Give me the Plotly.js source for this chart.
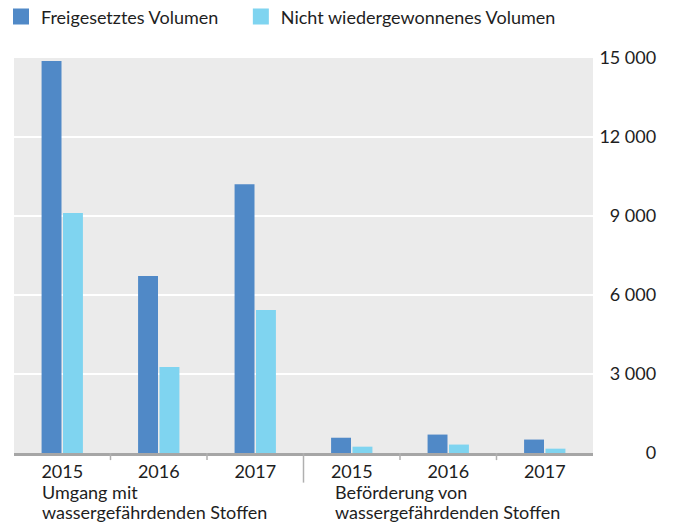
<!DOCTYPE html>
<html><head><meta charset="utf-8">
<script src="https://cdn.plot.ly/plotly-3.0.1.min.js"></script>
<style>body{margin:0;padding:0;background:#fff}#chart{width:674px;height:525px}</style>
</head><body><div id="chart"></div>
<script>
const categories = ["U2015","U2016","U2017","B2015","B2016","B2017"];
const tickLabels = ["2015","2016","2017","2015","2016","2017"];
const groupLines = [["Umgang mit", "wassergefährdenden Stoffen"], ["Beförderung von", "wassergefährdenden Stoffen"]];
const seriesNames = ["Freigesetztes Volumen", "Nicht wiedergewonnenes Volumen"];
const freigesetzt = [14890, 6720, 10210, 580, 700, 510];
const nichtWieder = [9110, 3270, 5430, 240, 320, 165];
const yTicks = [0, 3000, 6000, 9000, 12000, 15000];

const FONT = "Lato, 'Liberation Sans', sans-serif";
const FS = 18;
const TXT = "#1e1e1e";
const C1 = "#5089c7", C2 = "#7fd4f0";

const traces = [
  {type:"bar", x:categories, y:freigesetzt, name:seriesNames[0], marker:{color:C1}, showlegend:false, hoverinfo:"y"},
  {type:"bar", x:categories, y:nichtWieder, name:seriesNames[1], marker:{color:C2}, showlegend:false, hoverinfo:"y"},
  {type:"scatter", mode:"markers", x:[null], y:[null], name:seriesNames[0], marker:{symbol:"square", size:20, color:C1}, showlegend:true, legend:"legend"},
  {type:"scatter", mode:"markers", x:[null], y:[null], name:seriesNames[1], marker:{symbol:"square", size:20, color:C2}, showlegend:true, legend:"legend2"}
];

const shapes = [];
[0.5, 1.5, 3.5, 4.5].forEach(v => shapes.push({type:"line", xref:"x", yref:"paper", x0:v, x1:v, y0:0, y1:-0.018, line:{color:"#b0b0b0", width:1.5}}));
shapes.push({type:"line", xref:"x", yref:"paper", x0:2.5, x1:2.5, y0:0, y1:-0.075, line:{color:"#b0b0b0", width:1.5}});

const legendBase = {orientation:"h", xanchor:"left", y:1.104, yanchor:"middle", font:{family:FONT, size:FS, color:TXT},
                    itemwidth:30, tracegroupgap:0, bgcolor:"rgba(0,0,0,0)"};

const groupX = [0.04, 0.4905];
const lineY = [-0.0987, -0.1494];
const annotations = [];
groupLines.forEach((lines, g) => lines.forEach((t, i) => annotations.push({
  xref:"paper", yref:"paper", x:groupX[g], y:lineY[i], xanchor:"left", yanchor:"middle", align:"left",
  text:t, showarrow:false, font:{family:FONT, size:FS, color:TXT}
})));

const layout = {
  width:674, height:525,
  margin:{l:14, r:10, t:58, b:72, autoexpand:false},
  paper_bgcolor:"#ffffff", plot_bgcolor:"#ebebeb",
  font:{family:FONT, size:FS, color:TXT},
  separators:", ",
  barmode:"group", bargap:0.556, bargroupgap:0.07,
  showlegend:true,
  legend:Object.assign({}, legendBase, {x:-0.02}),
  legend2:Object.assign({}, legendBase, {x:0.349}),
  xaxis:{domain:[0, 579/650], type:"category", range:[-0.5, 5.5], tickvals:categories, ticktext:tickLabels,
         showgrid:false, zeroline:false, showline:true, linecolor:"#a6a6a6", linewidth:3, ticks:"", fixedrange:true,
         tickfont:{family:FONT, size:FS, color:TXT}},
  yaxis:{range:[0, 15000], tickvals:yTicks, tickformat:",d", side:"left", anchor:"free", position:0.988,
         ticklabelposition:"outside", showgrid:true, gridcolor:"#ffffff", gridwidth:2, zeroline:false, showline:false, ticks:"",
         tickfont:{family:FONT, size:FS, color:TXT}, fixedrange:true, automargin:false},
  shapes:shapes,
  annotations:annotations
};
Plotly.newPlot("chart", traces, layout, {displayModeBar:false, staticPlot:true});
</script></body></html>
